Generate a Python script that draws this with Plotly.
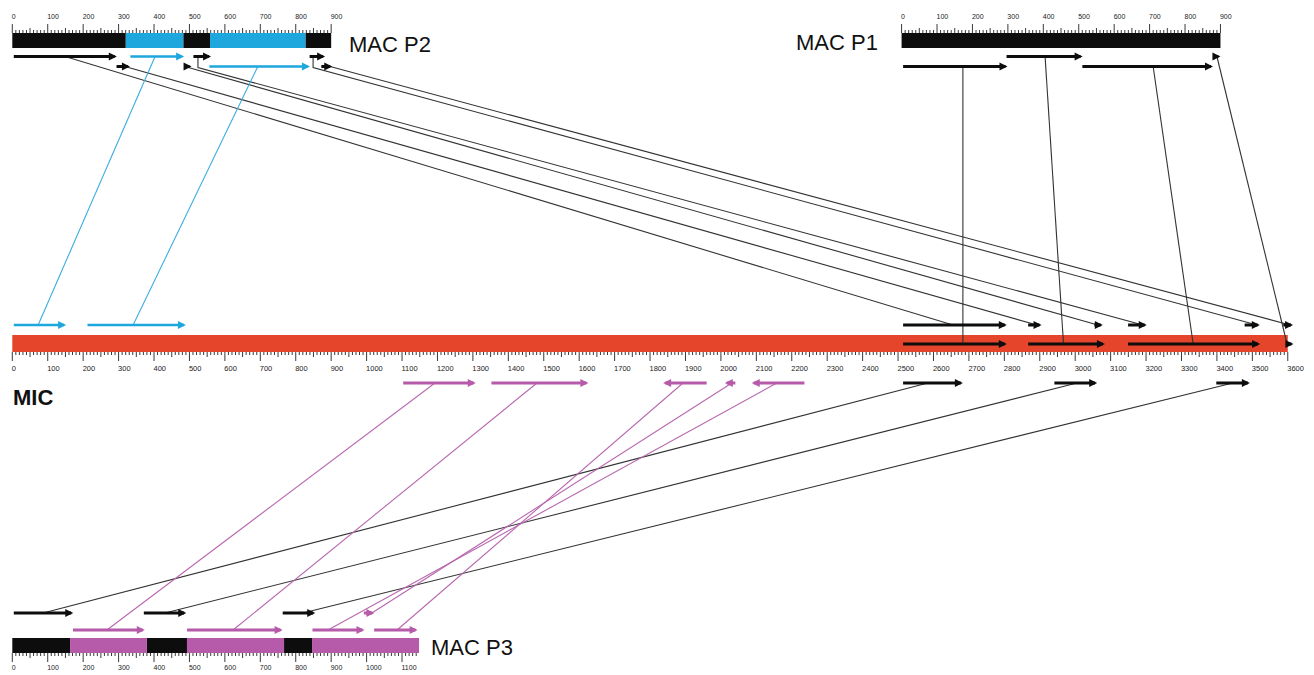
import numpy as np
import plotly.graph_objects as go

# ---------------- data (positions in bp) ----------------
MIC_LENGTH = 3600
MIC_TICK_LABELS = list(range(0, 3601, 100))

P2_LENGTH = 900
P1_LENGTH = 900
P3_LENGTH = 1148
P1_OFFSET = 2510          # MAC P1 is drawn aligned under MIC position 2510
P2_TICK_LABELS = list(range(0, 901, 100))
P1_TICK_LABELS = list(range(0, 901, 100))
P3_TICK_LABELS = list(range(0, 1101, 100))

# MAC P2 segments
P2_SEG_START = [0, 320, 483, 558, 828]
P2_SEG_END = [320, 483, 558, 828, 900]
P2_SEG_GROUP = ["k", "b", "k", "b", "k"]
# MAC P1 segments
P1_SEG_START = [0]
P1_SEG_END = [900]
P1_SEG_GROUP = ["k"]
# MAC P3 segments
P3_SEG_START = [0, 163, 380, 493, 767, 846]
P3_SEG_END = [163, 380, 493, 767, 846, 1148]
P3_SEG_GROUP = ["k", "m", "k", "m", "k", "m"]

# MAC P2 arrows (tail -> head)
P2_ROW1_TAIL = [0, 329, 507, 835]
P2_ROW1_HEAD = [295, 485, 561, 883]
P2_ROW1_GROUP = ["k", "b", "k", "k"]
P2_ROW2_TAIL = [290, 481, 552, 868]
P2_ROW2_HEAD = [332, 506, 840, 903]
P2_ROW2_GROUP = ["k", "k", "b", "k"]

# MAC P1 arrows
P1_ROW1_TAIL = [292, 875]
P1_ROW1_HEAD = [511, 900]
P1_ROW2_TAIL = [0, 506]
P1_ROW2_HEAD = [299, 879]

# MIC arrows
MIC_UP_TAIL = [0, 208, 2510, 2863, 3050, 3145, 3474, 3583]
MIC_UP_HEAD = [152, 490, 2807, 2905, 3078, 3202, 3521, 3615]
MIC_UP_GROUP = ["b", "b", "k", "k", "k", "k", "k", "k"]
MIC_ON_TAIL = [2510, 2863, 3145, 3590]
MIC_ON_HEAD = [2807, 3084, 3522, 3616]
MIC_LOW_TAIL = [1099, 1348, 1964, 2045, 2240, 2510, 2937, 3394]
MIC_LOW_HEAD = [1308, 1626, 1837, 2011, 2087, 2683, 3062, 3493]
MIC_LOW_GROUP = ["m", "m", "m", "m", "m", "k", "k", "k"]

# MAC P3 arrows
P3_ROWA_TAIL = [0, 367, 759, 988]
P3_ROWA_HEAD = [172, 491, 855, 1022]
P3_ROWA_GROUP = ["k", "k", "k", "m"]
P3_ROWB_TAIL = [167, 489, 843, 1017]
P3_ROWB_HEAD = [374, 763, 994, 1144]
P3_ROWB_GROUP = ["m", "m", "m", "m"]

# links MAC P2 -> MIC (upper arrow row)
P2_LINK_SRC = [149, 318, 487, 524, 849, 897, 403, 693]
P2_LINK_ROW = ["r1", "r2", "r2", "drop", "drop", "r2", "r1", "r2"]
P2_LINK_DST = [2655, 2892, 3064, 3191, 3513, 3606, 73, 341]
P2_LINK_GROUP = ["k", "k", "k", "k", "k", "k", "b", "b"]
# links MAC P1 -> MIC (arrows on the bar)
P1_LINK_SRC = [173, 405, 710, 890]
P1_LINK_ROW = ["r2", "r1", "r2", "r1"]
P1_LINK_DST = [2683, 2967, 3333, 3598]
# links MAC P3 -> MIC (lower arrow row)
P3_LINK_SRC = [87, 431, 820, 267, 623, 891, 1015, 1086]
P3_LINK_ROW = ["a", "a", "a", "b", "b", "b", "a", "b"]
P3_LINK_DST = [2584, 3005, 3445, 1193, 1481, 2158, 2031, 1893]
P3_LINK_GROUP = ["k", "k", "k", "m", "m", "m", "m", "m"]

# ---------------- styling / layout ----------------
W, H = 1314, 675
PX0, SCALE = 12.3, 0.3543           # pixel of bp 0, pixels per bp
XRANGE = [-PX0 / SCALE, (W - PX0) / SCALE]

COL = {"k": "#0d0d0d", "b": "#1ea7dd", "m": "#b65ba9", "r": "#e4452b"}
LINKCOL = {"k": "#333333", "b": "#3aaee0", "m": "#b868ae"}
FONT = "Liberation Sans, Arial, sans-serif"

# vertical layout (y axis runs top->bottom)
TOP_BAR = (33, 48)
TOP_R1, TOP_R2 = 56.5, 66.5
MIC_BAR = (335, 352)
MIC_UP, MIC_ON, MIC_LOW = 325, 344, 383
P3_BAR = (638, 653)
P3_RA, P3_RB = 613, 630

fig = go.Figure()


def add_bars(starts, ends, groups, offset, yspan):
    yc = (yspan[0] + yspan[1]) / 2
    hgt = yspan[1] - yspan[0]
    for g in sorted(set(groups)):
        idx = [i for i, gg in enumerate(groups) if gg == g]
        fig.add_trace(go.Bar(
            orientation="h",
            base=[starts[i] + offset for i in idx],
            x=[ends[i] - starts[i] for i in idx],
            y=[yc] * len(idx), width=[hgt] * len(idx),
            marker=dict(color=COL[g], line=dict(width=0)),
            hoverinfo="skip", showlegend=False))


add_bars(P2_SEG_START, P2_SEG_END, P2_SEG_GROUP, 0, TOP_BAR)
add_bars(P1_SEG_START, P1_SEG_END, P1_SEG_GROUP, P1_OFFSET, TOP_BAR)
add_bars([0], [MIC_LENGTH], ["r"], 0, MIC_BAR)
add_bars(P3_SEG_START, P3_SEG_END, P3_SEG_GROUP, 0, P3_BAR)


def add_ruler(length, offset, y_base, direction, labels, label_y, fsize):
    xs, ys = [], []
    for t in np.arange(0, length + 1, 10):
        if t % 100 == 0:
            L = 9
        elif t % 50 == 0:
            L = 5
        else:
            L = 3
        xs += [t + offset, t + offset, None]
        ys += [y_base, y_base + direction * L, None]
    fig.add_trace(go.Scatter(x=xs, y=ys, mode="lines",
                             line=dict(color="#3a3a3a", width=1),
                             hoverinfo="skip", showlegend=False))
    fig.add_trace(go.Scatter(
        x=[v + offset - 1.5 for v in labels], y=[label_y] * len(labels),
        mode="text", text=[str(v) for v in labels],
        textposition="middle right",
        textfont=dict(family=FONT, size=fsize, color="#222222"),
        hoverinfo="skip", showlegend=False))


add_ruler(P2_LENGTH, 0, TOP_BAR[0], -1, P2_TICK_LABELS, 17, 7)
add_ruler(P1_LENGTH, P1_OFFSET, TOP_BAR[0], -1, P1_TICK_LABELS, 17, 7)
add_ruler(MIC_LENGTH, 0, MIC_BAR[1], 1, MIC_TICK_LABELS, 369, 7.5)
add_ruler(1140, 0, P3_BAR[1], 1, P3_TICK_LABELS, 668, 7)


# ---------------- links ----------------
def add_links(segs_by_group):
    for g, segs in segs_by_group.items():
        xs, ys = [], []
        for pts in segs:
            for (x, y) in pts:
                xs.append(x)
                ys.append(y)
            xs.append(None)
            ys.append(None)
        fig.add_trace(go.Scatter(x=xs, y=ys, mode="lines",
                                 line=dict(color=LINKCOL[g], width=1.1),
                                 hoverinfo="skip", showlegend=False))


links = {"k": [], "b": [], "m": []}
for s, r, d, g in zip(P2_LINK_SRC, P2_LINK_ROW, P2_LINK_DST, P2_LINK_GROUP):
    if r == "drop":
        pts = [(s, TOP_R1), (s, TOP_R2 + 1), (d, MIC_UP)]
    else:
        pts = [(s, TOP_R1 if r == "r1" else TOP_R2), (d, MIC_UP)]
    links[g].append(pts)
for s, r, d in zip(P1_LINK_SRC, P1_LINK_ROW, P1_LINK_DST):
    links["k"].append([(s + P1_OFFSET, TOP_R1 if r == "r1" else TOP_R2), (d, MIC_ON)])
for s, r, d, g in zip(P3_LINK_SRC, P3_LINK_ROW, P3_LINK_DST, P3_LINK_GROUP):
    links[g].append([(s, P3_RA if r == "a" else P3_RB), (d, MIC_LOW)])
add_links(links)

# ---------------- arrows ----------------
annotations = []


def add_arrows(tails, heads, groups, offset, y):
    for t, h, g in zip(tails, heads, groups):
        w = 3 if g != "b" else 2.5
        annotations.append(dict(
            x=h + offset, y=y, ax=t + offset, ay=y,
            xref="x", yref="y", axref="x", ayref="y",
            text="", showarrow=True, arrowhead=2,
            arrowsize=1.6 / w, arrowwidth=w, arrowcolor=COL[g],
            standoff=0, startstandoff=0))


add_arrows(P2_ROW1_TAIL, P2_ROW1_HEAD, P2_ROW1_GROUP, 0, TOP_R1)
add_arrows(P2_ROW2_TAIL, P2_ROW2_HEAD, P2_ROW2_GROUP, 0, TOP_R2)
add_arrows(P1_ROW1_TAIL, P1_ROW1_HEAD, ["k"] * 2, P1_OFFSET, TOP_R1)
add_arrows(P1_ROW2_TAIL, P1_ROW2_HEAD, ["k"] * 2, P1_OFFSET, TOP_R2)
add_arrows(MIC_UP_TAIL, MIC_UP_HEAD, MIC_UP_GROUP, 0, MIC_UP)
add_arrows(MIC_ON_TAIL, MIC_ON_HEAD, ["k"] * 4, 0, MIC_ON)
add_arrows(MIC_LOW_TAIL, MIC_LOW_HEAD, MIC_LOW_GROUP, 0, MIC_LOW)
add_arrows(P3_ROWA_TAIL, P3_ROWA_HEAD, P3_ROWA_GROUP, 0, P3_RA)
add_arrows(P3_ROWB_TAIL, P3_ROWB_HEAD, P3_ROWB_GROUP, 0, P3_RB)

# ---------------- titles ----------------
for txt, x, y, bold in [("MAC P2", 945, 44, False), ("MAC P1", 2207, 42, False),
                        ("MAC P3", 1177, 647, False), ("MIC", -3, 397, True)]:
    annotations.append(dict(
        x=x, y=y, xref="x", yref="y", xanchor="left", yanchor="middle",
        text=f"<b>{txt}</b>" if bold else txt, showarrow=False,
        font=dict(family=FONT, size=22, color="#111111")))

fig.update_layout(
    width=W, height=H, margin=dict(l=0, r=0, t=0, b=0),
    paper_bgcolor="white", plot_bgcolor="white",
    barmode="overlay", showlegend=False,
    xaxis=dict(range=XRANGE, visible=False, fixedrange=True),
    yaxis=dict(range=[H, 0], visible=False, fixedrange=True),
    annotations=annotations,
)

fig.write_html("out.html", config={"displayModeBar": False},
               post_script="document.body.style.margin='0';document.body.style.overflow='hidden';")
